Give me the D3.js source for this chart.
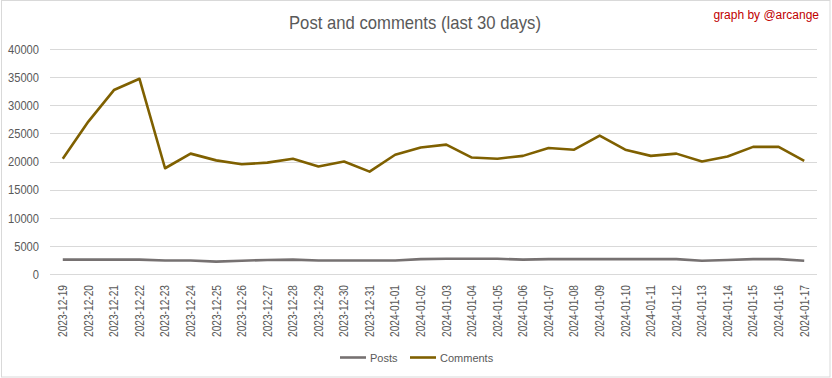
<!DOCTYPE html>
<html><head><meta charset="utf-8">
<script src="https://cdn.jsdelivr.net/npm/d3@7"></script>
<style>
html,body{margin:0;padding:0;background:#fff;}
svg{display:block;}
text{font-family:"Liberation Sans",Arial,sans-serif;}
</style></head>
<body>
<svg id="chart" width="832" height="378"></svg>
<script>
const dates = ["2023-12-19","2023-12-20","2023-12-21","2023-12-22","2023-12-23","2023-12-24","2023-12-25","2023-12-26","2023-12-27","2023-12-28","2023-12-29","2023-12-30","2023-12-31","2024-01-01","2024-01-02","2024-01-03","2024-01-04","2024-01-05","2024-01-06","2024-01-07","2024-01-08","2024-01-09","2024-01-10","2024-01-11","2024-01-12","2024-01-13","2024-01-14","2024-01-15","2024-01-16","2024-01-17"];
const posts = [2550,2550,2550,2550,2400,2400,2200,2350,2500,2550,2400,2400,2400,2400,2650,2700,2700,2700,2550,2650,2650,2650,2650,2650,2650,2350,2500,2650,2650,2350];
const comments = [20500,27100,32700,34700,18800,21400,20200,19500,19800,20500,19100,20000,18200,21200,22500,23000,20700,20500,21000,22400,22100,24600,22100,21000,21400,20000,20900,22600,22600,20100];
const yTicks = [0,5000,10000,15000,20000,25000,30000,35000,40000];
const seriesNames = ["Posts","Comments"];
const colors = ["#767171","#7F6000"];

const svg = d3.select("#chart");
const L = 50, R = 817, T = 49, B = 274;
const textCol = "#595959";

svg.append("rect").attr("x",1.5).attr("y",0.5).attr("width",828.5).attr("height",376.5)
  .attr("fill","none").attr("stroke","#d9d9d9");

const x = d3.scaleBand().domain(dates).range([L,R]);
const y = d3.scaleLinear().domain([0,40000]).range([B,T]);

// gridlines
svg.append("g").selectAll("line").data(yTicks).join("line")
  .attr("x1",L).attr("x2",R).attr("y1",d=>Math.round(y(d))+0.5).attr("y2",d=>Math.round(y(d))+0.5)
  .attr("stroke","#d9d9d9").attr("stroke-width",1);

// y axis labels
const yAxis = d3.axisLeft(y).tickValues(yTicks).tickSize(0).tickPadding(0).tickFormat(d3.format("d"));
const gy = svg.append("g").attr("transform",`translate(39,0)`).call(yAxis);
gy.select(".domain").remove();
gy.selectAll("text").attr("fill",textCol).attr("font-size",12).attr("dy","0.36em")
  .attr("font-family",'"Liberation Sans",Arial,sans-serif')
  .attr("textLength",function(d){return String(d).length*6.2;}).attr("lengthAdjust","spacingAndGlyphs");

// x axis labels
const xAxis = d3.axisBottom(x).tickSize(0).tickPadding(0);
const gx = svg.append("g").attr("transform",`translate(0,285)`).call(xAxis);
gx.select(".domain").remove();
gx.selectAll("text").attr("fill",textCol).attr("font-size",12)
  .attr("font-family",'"Liberation Sans",Arial,sans-serif')
  .attr("text-anchor","end").attr("y",0).attr("x",0).attr("dy","0.36em")
  .attr("transform","rotate(-90)")
  .attr("textLength",52).attr("lengthAdjust","spacingAndGlyphs");

const line = d3.line().x((d,i)=>x(dates[i])+x.bandwidth()/2).y(d=>y(d));
[posts,comments].forEach((s,k)=>{
  svg.append("path").datum(s).attr("d",line).attr("fill","none")
    .attr("stroke",colors[k]).attr("stroke-width",2.6).attr("stroke-linejoin","round");
});

// title
svg.append("text").attr("x",415).attr("y",29).attr("text-anchor","middle")
  .attr("fill",textCol).attr("font-size",19)
  .attr("textLength",252).attr("lengthAdjust","spacingAndGlyphs")
  .text("Post and comments (last 30 days)");
svg.append("text").attr("x",819).attr("y",18.5).attr("text-anchor","end")
  .attr("fill","#C00000").attr("font-size",12).text("graph by @arcange");

// legend
const legX = [340,410], legW = 26;
seriesNames.forEach((n,k)=>{
  svg.append("line").attr("x1",legX[k]).attr("x2",legX[k]+legW).attr("y1",357.5).attr("y2",357.5)
    .attr("stroke",colors[k]).attr("stroke-width",2.6);
  svg.append("text").attr("x",legX[k]+legW+4).attr("y",361.5).attr("fill",textCol)
    .attr("font-size",11).text(n);
});
</script>
</body></html>
